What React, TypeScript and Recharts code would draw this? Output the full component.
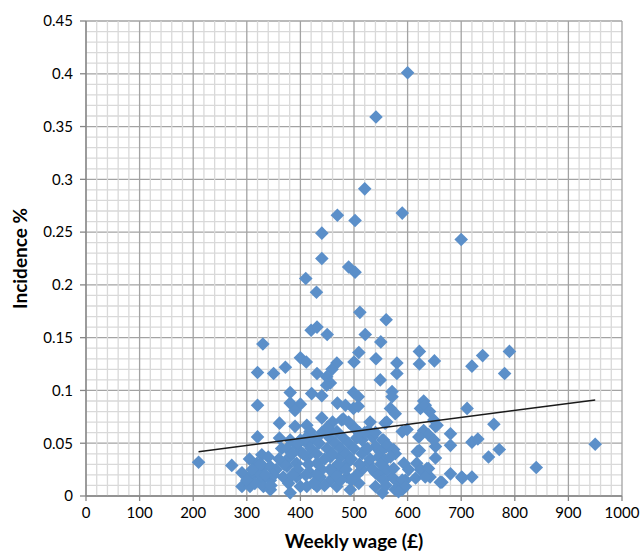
import { ScatterChart, Scatter, XAxis, YAxis, CartesianGrid } from "recharts";

// [weekly wage, incidence]
const highPoints: [number, number][] = [
  [600, 0.401], [541, 0.359], [520, 0.291], [469, 0.266], [502, 0.261], [590, 0.268],
  [440, 0.249], [700, 0.243], [440, 0.225], [490, 0.217], [502, 0.212], [410, 0.206],
  [430, 0.193], [511, 0.174], [560, 0.167], [420, 0.157], [431, 0.16], [450, 0.153],
  [521, 0.153], [550, 0.146], [330, 0.144],
];

const midPoints: [number, number][] = [
  [400, 0.131], [411, 0.127], [509, 0.136], [500, 0.127], [541, 0.13], [580, 0.126],
  [580, 0.116], [468, 0.126], [459, 0.12], [449, 0.113], [456, 0.107], [622, 0.137],
  [622, 0.125], [650, 0.128], [720, 0.123], [740, 0.133], [790, 0.137], [781, 0.116],
  [320, 0.117], [350, 0.116], [372, 0.122], [431, 0.116], [449, 0.105], [549, 0.11],
  [381, 0.098], [421, 0.097], [440, 0.095], [499, 0.098], [508, 0.094], [571, 0.099],
  [571, 0.094], [320, 0.086], [400, 0.087], [381, 0.088], [390, 0.081], [469, 0.088],
  [484, 0.086], [499, 0.083], [508, 0.085], [568, 0.083], [577, 0.078], [630, 0.09],
  [624, 0.083], [633, 0.086], [641, 0.08], [711, 0.083], [440, 0.074], [480, 0.073],
  [477, 0.072],
];

const lowerPoints: [number, number][] = [
  [361, 0.069], [390, 0.066], [412, 0.067], [418, 0.061], [456, 0.062], [468, 0.061],
  [558, 0.069], [561, 0.07], [649, 0.072], [652, 0.066], [655, 0.067], [761, 0.068],
  [590, 0.061], [599, 0.063], [630, 0.062], [639, 0.058], [621, 0.056], [649, 0.053],
  [652, 0.047], [680, 0.059], [680, 0.048], [720, 0.051], [731, 0.054], [320, 0.056],
  [361, 0.055], [381, 0.053], [393, 0.048], [412, 0.05], [400, 0.042], [400, 0.053],
  [515, 0.053], [527, 0.062], [534, 0.056], [540, 0.047], [553, 0.053], [565, 0.047],
  [555, 0.053], [561, 0.047], [549, 0.042], [574, 0.044], [521, 0.044], [577, 0.04],
  [618, 0.042], [622, 0.043], [652, 0.036], [771, 0.044], [950, 0.049], [751, 0.037],
];

const bottomPoints: [number, number][] = [
  [210, 0.032], [272, 0.029], [291, 0.022], [291, 0.009], [328, 0.039], [340, 0.037],
  [319, 0.031], [331, 0.028], [344, 0.028], [319, 0.022], [306, 0.018], [328, 0.015],
  [344, 0.015], [306, 0.009], [331, 0.009], [344, 0.006], [378, 0.036], [375, 0.028],
  [393, 0.031], [368, 0.018], [378, 0.012], [393, 0.018], [400, 0.009], [381, 0.003],
  [412, 0.037], [431, 0.031], [418, 0.022], [437, 0.018], [412, 0.009], [431, 0.009],
  [456, 0.037], [462, 0.025], [456, 0.015], [474, 0.025], [487, 0.018], [468, 0.009],
  [493, 0.006], [487, 0.031], [474, 0.037], [546, 0.037], [558, 0.034], [527, 0.031],
  [515, 0.025], [540, 0.022], [558, 0.025], [571, 0.018], [583, 0.012], [577, 0.006],
  [509, 0.012], [540, 0.009], [553, 0.003], [593, 0.031], [602, 0.025], [596, 0.015],
  [615, 0.017], [636, 0.026], [642, 0.018], [664, 0.013], [680, 0.021], [701, 0.018],
  [720, 0.018], [590, 0.006], [617, 0.031], [624, 0.025], [590, 0.015], [596, 0.009],
  [583, 0.004], [561, 0.025], [574, 0.026], [568, 0.037], [639, 0.026], [633, 0.018],
  [661, 0.013], [840, 0.027], [702, 0.017],
];

const corePoints: [number, number][] = [
  [420, 0.045], [425, 0.055], [430, 0.04], [435, 0.05], [440, 0.06], [445, 0.035],
  [450, 0.045], [455, 0.055], [460, 0.04], [465, 0.05], [470, 0.03], [475, 0.045],
  [480, 0.055], [485, 0.04], [490, 0.05], [495, 0.035], [500, 0.045], [505, 0.055],
  [510, 0.03], [515, 0.04], [520, 0.06], [525, 0.045], [530, 0.035], [535, 0.025],
  [545, 0.02], [550, 0.03], [555, 0.015], [560, 0.01], [505, 0.02], [495, 0.015],
  [485, 0.025], [475, 0.015], [465, 0.02], [455, 0.025], [445, 0.01], [440, 0.025],
  [430, 0.02], [425, 0.012], [415, 0.03], [410, 0.02], [405, 0.04], [395, 0.025],
  [385, 0.02], [370, 0.03], [360, 0.035], [355, 0.025], [350, 0.02], [345, 0.01],
  [335, 0.02], [325, 0.03], [315, 0.012], [310, 0.025], [300, 0.015], [305, 0.035],
  [365, 0.045], [375, 0.045], [385, 0.04], [395, 0.05], [410, 0.055], [500, 0.065],
  [510, 0.06], [490, 0.07], [530, 0.07], [540, 0.06], [460, 0.07], [450, 0.065],
];

// linear trend line end points
const trendWage = [210, 950];
const trendIncidence = [0.042, 0.091];

const xTicks = [0, 100, 200, 300, 400, 500, 600, 700, 800, 900, 1000];
const yTicks = [0, 0.05, 0.1, 0.15, 0.2, 0.25, 0.3, 0.35, 0.4, 0.45];
const xDomain = [0, 1000];
const yDomain = [0, 0.45];
const xMinor = [
  0, 20, 40, 60, 80, 100, 120, 140, 160, 180, 200, 220, 240, 260, 280, 300, 320, 340,
  360, 380, 400, 420, 440, 460, 480, 500, 520, 540, 560, 580, 600, 620, 640, 660, 680,
  700, 720, 740, 760, 780, 800, 820, 840, 860, 880, 900, 920, 940, 960, 980, 1000,
];
const yMinor = [
  0, 0.01, 0.02, 0.03, 0.04, 0.05, 0.06, 0.07, 0.08, 0.09, 0.1, 0.11, 0.12, 0.13, 0.14,
  0.15, 0.16, 0.17, 0.18, 0.19, 0.2, 0.21, 0.22, 0.23, 0.24, 0.25, 0.26, 0.27, 0.28,
  0.29, 0.3, 0.31, 0.32, 0.33, 0.34, 0.35, 0.36, 0.37, 0.38, 0.39, 0.4, 0.41, 0.42,
  0.43, 0.44, 0.45,
];

const points = [...highPoints, ...midPoints, ...lowerPoints, ...bottomPoints, ...corePoints].map(
  ([x, y]) => ({ x, y })
);
const trendData = trendWage.map((x, i) => ({ x, y: trendIncidence[i] }));

const font = "Lato, 'Open Sans', sans-serif";
const margin = { top: 21, right: 19, bottom: 0, left: 0 };

function Diamond(props: any) {
  const { cx, cy } = props;
  if (cx == null || cy == null) return null;
  const r = 6.8;
  return (
    <polygon
      points={`${cx},${cy - r} ${cx + r},${cy} ${cx},${cy + r} ${cx - r},${cy}`}
      fill="#5B8FC9"
    />
  );
}

// plot area, with fallbacks matching the fixed layout
function plotArea(o: any) {
  return {
    left: o?.left ?? o?.x ?? 86,
    top: o?.top ?? o?.y ?? margin.top,
    width: o?.width ?? 536,
    height: o?.height ?? 475,
  };
}

const near = (a: number, b: number) => Math.abs(a - b) < 0.6;

function verticalLine(p: any) {
  const a = plotArea({ x: p.x, y: p.y, width: p.width, height: p.height });
  const major = xTicks.some((t) =>
    near(p.x1, a.left + (a.width * (t - xDomain[0])) / (xDomain[1] - xDomain[0]))
  );
  return line(p, major);
}

function horizontalLine(p: any) {
  const a = plotArea({ x: p.x, y: p.y, width: p.width, height: p.height });
  const major = yTicks.some((t) =>
    near(p.y1, a.top + a.height * (1 - (t - yDomain[0]) / (yDomain[1] - yDomain[0])))
  );
  return line(p, major);
}

function line(p: any, major: boolean) {
  return (
    <line
      key={p.key}
      x1={p.x1}
      y1={p.y1}
      x2={p.x2}
      y2={p.y2}
      stroke={major ? "#A3A3A3" : "#D9D9D9"}
      strokeWidth={1.3}
    />
  );
}

export default function App() {
  return (
    <div style={{ width: 641, height: 554, background: "#fff" }}>
      <style>{"body{margin:0}"}</style>
      <ScatterChart width={641} height={554} margin={margin}>
        <CartesianGrid
          horizontalCoordinatesGenerator={({ offset }: any) => {
            const a = plotArea(offset);
            return yMinor.map(
              (v) => a.top + a.height * (1 - (v - yDomain[0]) / (yDomain[1] - yDomain[0]))
            );
          }}
          verticalCoordinatesGenerator={({ offset }: any) => {
            const a = plotArea(offset);
            return xMinor.map(
              (v) => a.left + (a.width * (v - xDomain[0])) / (xDomain[1] - xDomain[0])
            );
          }}
          horizontal={(p: any) => horizontalLine(p)}
          vertical={(p: any) => verticalLine(p)}
        />
        <XAxis
          type="number"
          dataKey="x"
          domain={xDomain}
          ticks={xTicks}
          height={58}
          tickSize={5}
          tickMargin={6}
          tick={{ fill: "#000", fontSize: 15, fontFamily: font }}
          axisLine={{ stroke: "#868686", strokeWidth: 1.3 }}
          tickLine={{ stroke: "#868686", strokeWidth: 1.3 }}
          label={{
            content: (p: any) => {
              const vb = p.viewBox || {};
              return (
                <text
                  x={vb.x + vb.width / 2}
                  y={vb.y + vb.height - 6}
                  textAnchor="middle"
                  fontFamily={font}
                  fontWeight="bold"
                  fontSize={19}
                  fill="#000"
                >
                  Weekly wage (£)
                </text>
              );
            },
          }}
        />
        <YAxis
          type="number"
          dataKey="y"
          domain={yDomain}
          ticks={yTicks}
          width={86}
          tickSize={6}
          tickMargin={7}
          tick={{ fill: "#000", fontSize: 15, fontFamily: font }}
          axisLine={{ stroke: "#868686", strokeWidth: 1.3 }}
          tickLine={{ stroke: "#868686", strokeWidth: 1.3 }}
          label={{
            content: (p: any) => {
              const vb = p.viewBox || {};
              const cx = vb.x + 27;
              const cy = vb.y + vb.height / 2;
              return (
                <text
                  x={cx}
                  y={cy}
                  transform={`rotate(-90 ${cx} ${cy})`}
                  textAnchor="middle"
                  fontFamily={font}
                  fontWeight="bold"
                  fontSize={19}
                  fill="#000"
                >
                  Incidence %
                </text>
              );
            },
          }}
        />
        <Scatter data={points} shape={<Diamond />} isAnimationActive={false} />
        <Scatter
          data={trendData}
          line={{ stroke: "#1A1A1A", strokeWidth: 1.5 }}
          shape={() => <g />}
          isAnimationActive={false}
        />
      </ScatterChart>
    </div>
  );
}
